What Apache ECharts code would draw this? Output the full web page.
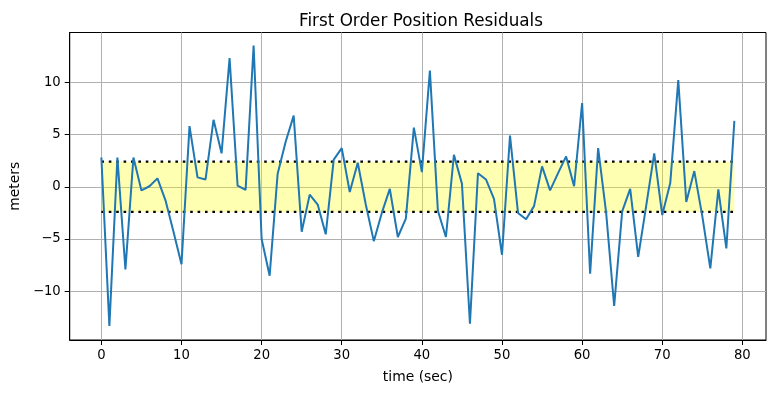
<!DOCTYPE html>
<html>
<head>
<meta charset="utf-8">
<script src="https://cdn.jsdelivr.net/npm/echarts@6/dist/echarts.min.js"></script>
<style>html,body{margin:0;padding:0;background:#fff;}#chart{width:776px;height:393px;}</style>
</head>
<body>
<div id="chart"></div>
<script>
const timeSec = [0,1,2,3,4,5,6,7,8,9,10,11,12,13,14,15,16,17,18,19,20,21,22,23,24,25,26,27,28,29,30,31,32,33,34,35,36,37,38,39,40,41,42,43,44,45,46,47,48,49,50,51,52,53,54,55,56,57,58,59,60,61,62,63,64,65,66,67,68,69,70,71,72,73,74,75,76,77,78,79];
const residuals = [2.8,-13.3,2.8,-7.9,2.8,-0.35,0.05,0.8,-1.3,-4.3,
  -7.4,5.8,0.9,0.7,6.4,3.2,12.3,0.1,-0.3,13.5,
  -5.0,-8.5,1.25,4.3,6.8,-4.3,-0.75,-1.7,-4.55,2.6,
  3.7,-0.5,2.3,-1.7,-5.2,-2.5,-0.2,-4.8,-3.05,5.65,
  1.4,11.1,-2.3,-4.8,3.05,0.3,-13.1,1.3,0.7,-1.15,
  -6.5,4.9,-2.5,-3.1,-1.85,1.95,-0.35,1.3,2.9,0.05,
  8.0,-8.3,3.7,-2.5,-11.4,-2.35,-0.2,-6.7,-1.8,3.2,
  -2.7,0.35,10.2,-1.45,1.5,-2.8,-7.8,-0.25,-5.9,6.3];
const bandUpper = 2.4;
const bandLower = -2.4;
const xTicks = [0,10,20,30,40,50,60,70,80];
const yTicks = [-10,-5,0,5,10];

const font = 'DejaVu Sans';
const minus = v => String(v).replace('-', '\u2212');
const tStart = timeSec[0], tEnd = timeSec[timeSec.length-1];

const chart = echarts.init(document.getElementById('chart'), null, {renderer:'canvas'});
chart.setOption({
  animation: false,
  title: {
    text: 'First Order Position Residuals',
    left: 294, top: 8,
    textStyle: {fontFamily: font, fontSize: 16.8, fontWeight: 'normal', color: '#000'}
  },
  grid: {left: 69.5, right: 10, top: 32.5, bottom: 53, show: true, borderColor: '#000', borderWidth: 1, backgroundColor: 'transparent'},
  xAxis: {
    type: 'value', min: -3.95, max: 82.95,
    name: 'time (sec)', nameLocation: 'middle', nameGap: 30,
    nameTextStyle: {fontFamily: font, fontSize: 13.9, color: '#000'},
    axisLine: {show: true, onZero: false, lineStyle: {color: '#000', width: 1}},
    axisTick: {show: true, customValues: xTicks, length: 5, lineStyle: {color: '#000', width: 1}},
    axisLabel: {customValues: xTicks, margin: 9, fontFamily: font, fontSize: 13.2, color: '#000', formatter: minus},
    splitLine: {show: true, lineStyle: {color: '#b0b0b0', width: 1}}
  },
  yAxis: {
    type: 'value', min: -14.65, max: 14.75,
    name: 'meters', nameLocation: 'middle', nameGap: 46,
    nameTextStyle: {fontFamily: font, fontSize: 13.9, color: '#000'},
    axisLine: {show: true, onZero: false, lineStyle: {color: '#000', width: 1}},
    axisTick: {show: true, customValues: yTicks, length: 5, lineStyle: {color: '#000', width: 1}},
    axisLabel: {customValues: yTicks, margin: 9, fontFamily: font, fontSize: 13.2, color: '#000', formatter: minus},
    splitLine: {show: true, lineStyle: {color: '#b0b0b0', width: 1}}
  },
  series: [
    {
      type: 'line', data: [], silent: true, z: 1,
      markArea: {silent: true, itemStyle: {color: 'rgba(255,255,0,0.3)'},
        data: [[{coord: [tStart, bandUpper]}, {coord: [tEnd, bandLower]}]]}
    },
    {
      type: 'line', data: [[tStart, bandUpper], [tEnd, bandUpper]], showSymbol: false, z: 3,
      lineStyle: {color: '#000', width: 2.4, type: [2.6, 4.8], cap: 'butt'}
    },
    {
      type: 'line', data: [[tStart, bandLower], [tEnd, bandLower]], showSymbol: false, z: 3,
      lineStyle: {color: '#000', width: 2.4, type: [2.6, 4.8], cap: 'butt'}
    },
    {
      type: 'line', data: timeSec.map((t, i) => [t, residuals[i]]), showSymbol: false, z: 4,
      lineStyle: {color: '#1f77b4', width: 2}
    }
  ]
});
</script>
</body>
</html>
